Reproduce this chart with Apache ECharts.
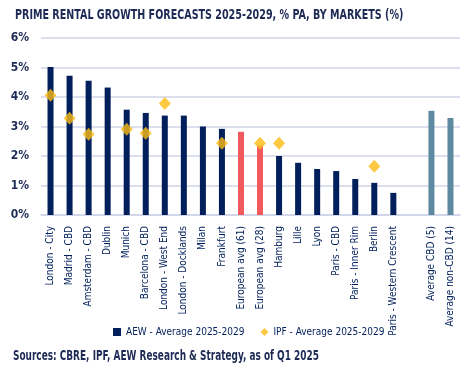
<!DOCTYPE html>
<html><head><meta charset="utf-8">
<script src="https://cdn.jsdelivr.net/npm/echarts@6/dist/echarts.min.js"></script>
<style>html,body{margin:0;padding:0;background:#fff}#c{width:475px;height:374px}</style>
</head><body><div id="c"></div>
<script>
const categories = ['London - City','Madrid - CBD','Amsterdam - CBD','Dublin','Munich','Barcelona - CBD','London - West End','London - Docklands','Milan','Frankfurt','European avg (61)','European avg (28)','Hamburg','Lille','Lyon','Paris - CBD','Paris - Inner Rim','Berlin','Paris - Western Crescent','','Average CBD (5)','Average non-CBD (14)'];
const aew = [5.02,4.72,4.55,4.32,3.57,3.46,3.37,3.37,3.0,2.92,2.82,2.35,2.0,1.77,1.56,1.49,1.22,1.09,0.75,null,3.53,3.29];
const ipf = [4.06,3.28,2.74,null,2.91,2.77,3.78,null,null,2.43,null,2.43,2.43,null,null,null,null,1.65,null,null,null,null];
const barKind = ['m','m','m','m','m','m','m','m','m','m','e','e','m','m','m','m','m','m','m','m','a','a'];
const yTicks = [0,1,2,3,4,5,6];

const NAVY = '#001f5b', RED = '#f05a5c', STEEL = '#5f88a1', GOLD = '#fdbb14';
const FONT = '"Liberation Sans Narrow","DejaVu Sans Condensed","Liberation Sans",sans-serif';
const kindColor = {m: NAVY, e: RED, a: STEEL};
const chart = echarts.init(document.getElementById('c'), null, {renderer: 'canvas'});
chart.setOption({
  animation: false,
  grid: {left: 41, right: 15, top: 38, bottom: 159},
  legend: {top: 322, left: 108, itemGap: 16, itemWidth: 8, itemHeight: 8,
    textStyle: {fontFamily: FONT, fontSize: 10, color: NAVY},
    data: [{name: 'AEW - Average 2025-2029', icon: 'rect', itemStyle: {color: NAVY}},
           {name: 'IPF - Average 2025-2029', icon: 'diamond', itemStyle: {color: GOLD}}]},
  xAxis: {type: 'category', data: categories,
    axisLine: {show: true, lineStyle: {color: '#cfd4e8', width: 1.5}}, axisTick: {show: false},
    axisLabel: {rotate: 90, interval: 0, margin: 11, fontFamily: FONT, fontSize: 10, color: NAVY}},
  yAxis: {type: 'value', min: 0, max: 6, interval: 1,
    axisLabel: {formatter: v => yTicks.includes(v) ? v + '%' : '', fontFamily: FONT, fontSize: 12, fontWeight: 'bold', color: '#1c2a55', margin: 12},
    splitLine: {lineStyle: {color: '#cfd4e8', width: 1.5}}, axisLine: {show: false}, axisTick: {show: false}},
  series: [
    {name: 'AEW - Average 2025-2029', type: 'bar', barWidth: 6,
     data: aew.map((v, i) => v == null ? '-' : {value: v, itemStyle: {color: kindColor[barKind[i]]}}),
     itemStyle: {color: NAVY}},
    {name: 'IPF - Average 2025-2029', type: 'scatter', symbol: 'diamond', symbolSize: [12, 13],
     data: ipf.map(v => v == null ? '-' : v), itemStyle: {color: GOLD}, z: 5}
  ],
  graphic: [
    {type: 'text', x: 15, y: 8, scaleX: 0.76, z: 10,
     style: {text: 'PRIME RENTAL GROWTH FORECASTS 2025-2029, % PA, BY MARKETS (%)', font: 'bold 14px ' + FONT, fill: '#1c2a55', textVerticalAlign: 'top'}},
    {type: 'text', x: 13, y: 349, scaleX: 0.71, z: 10,
     style: {text: 'Sources: CBRE, IPF, AEW Research & Strategy, as of Q1 2025', font: 'bold 14px ' + FONT, fill: '#1c2a55', textVerticalAlign: 'top'}}
  ]
});
</script></body></html>
